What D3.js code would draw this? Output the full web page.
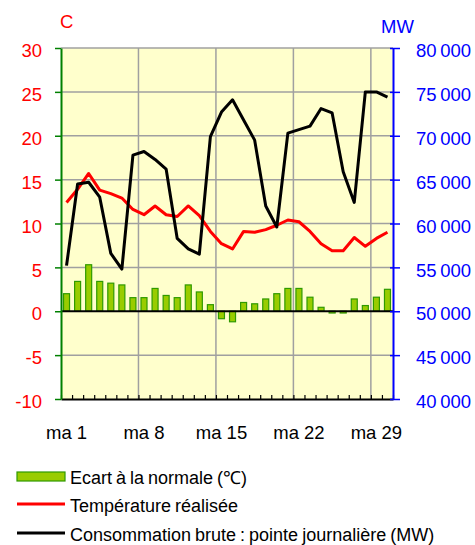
<!DOCTYPE html>
<html><head><meta charset="utf-8">
<script src="https://cdn.jsdelivr.net/npm/d3@7"></script>
<style>
body{margin:0;background:#fff}
svg{display:block;font-family:"Liberation Sans",Arial,sans-serif}
</style>
</head><body>
<svg id="chart" width="475" height="545"></svg>
<script>
// ---- data ----
const days = [1,2,3,4,5,6,7,8,9,10,11,12,13,14,15,16,17,18,19,20,21,22,23,24,25,26,27,28,29,30];
const ecart = [2.0,3.4,5.3,3.4,3.2,3.0,1.55,1.55,2.6,1.8,1.55,3.0,2.2,0.75,-0.85,-1.2,1.0,0.85,1.4,2.0,2.6,2.6,1.6,0.45,-0.2,-0.2,1.4,0.65,1.6,2.5];
const temperature = [12.4,13.9,15.7,13.8,13.4,12.9,11.6,11.0,12.0,11.0,10.8,12.0,10.9,9.1,7.7,7.1,9.1,9.0,9.3,9.8,10.4,10.2,9.1,7.7,6.9,6.9,8.4,7.4,8.3,9.0];
const consommation = [55200,64500,64700,63000,56600,54800,67800,68200,67300,66200,58300,57100,56500,69900,72700,74100,71800,69500,62000,59600,70300,70700,71100,73100,72600,65900,62400,75000,75000,74400];
const labelDays = [1,8,15,22,29];
const xLabels = ["ma 1","ma 8","ma 15","ma 22","ma 29"];
const tempTicks = [-10,-5,0,5,10,15,20,25,30];
const tempLabels = ["-10","-5","0","5","10","15","20","25","30"];
const mwTicks = [40000,45000,50000,55000,60000,65000,70000,75000,80000];
const gridDays = [8,15,22,29];
const legendLabels = ["Ecart à la normale (\u2103)","Température réalisée","Consommation brute : pointe journalière (MW)"];

// ---- layout ----
const L = 61, R = 393, T = 48, B = 399;
const FONT = '"Liberation Sans",Arial,sans-serif';
const svg = d3.select("#chart");
const x = d3.scaleBand().domain(days).range([L, R]).paddingInner(0).paddingOuter(0);
const xb = d3.scaleLinear().domain([0, days.length]).range([L, R]);
const yT = d3.scaleLinear().domain([-10, 30]).range([B, T]);
const yMW = d3.scaleLinear().domain([40000, 80000]).range([B, T]);
const bw = x.bandwidth();
const fmt = d3.formatLocale({decimal:",", thousands:"\u2009", grouping:[3], currency:["",""]}).format(",");

// background
svg.append("rect").attr("x", L).attr("y", T).attr("width", R - L).attr("height", B - T).attr("fill", "#ffffcc");

// grid
svg.append("g").selectAll("line").data(tempTicks.filter(v => v !== 0 && v !== -10)).join("line")
  .attr("x1", L).attr("x2", R).attr("y1", d => yT(d)).attr("y2", d => yT(d))
  .attr("stroke", "#a0a0a0").attr("stroke-width", 1.5);
svg.append("g").selectAll("line").data(gridDays).join("line")
  .attr("x1", d => x(d)).attr("x2", d => x(d)).attr("y1", T).attr("y2", B)
  .attr("stroke", "#a0a0a0").attr("stroke-width", 1.5);

// bars
const barW = 6;
svg.append("g").selectAll("rect").data(days).join("rect")
  .attr("x", (d) => x(d) + (bw - barW) / 2)
  .attr("y", (d, i) => yT(Math.max(0, ecart[i])))
  .attr("width", barW)
  .attr("height", (d, i) => Math.abs(yT(ecart[i]) - yT(0)))
  .attr("fill", "#99cc00").attr("stroke", "#2f9a00").attr("stroke-width", 1.2);

// zero line
svg.append("line").attr("x1", L).attr("x2", R).attr("y1", yT(0)).attr("y2", yT(0))
  .attr("stroke", "#000").attr("stroke-width", 2);

// lines
const lineT = d3.line().x((d, i) => x(days[i]) + bw / 2).y(d => yT(d));
const lineMW = d3.line().x((d, i) => x(days[i]) + bw / 2).y(d => yMW(d));
svg.append("path").attr("d", lineT(temperature)).attr("fill", "none")
  .attr("stroke", "#ff0000").attr("stroke-width", 3).attr("stroke-linejoin", "round");
svg.append("path").attr("d", lineMW(consommation)).attr("fill", "none")
  .attr("stroke", "#000").attr("stroke-width", 3).attr("stroke-linejoin", "round");

// bottom axis (ticks inside)
const bottom = svg.append("g").attr("transform", `translate(0,${B})`)
  .call(d3.axisTop(xb).ticks(30).tickSize(4).tickSizeOuter(0).tickFormat(""));
bottom.select(".domain").attr("stroke", "#000").attr("stroke-width", 2);
bottom.selectAll(".tick line").attr("stroke", "#000").attr("stroke-width", 1.2);

// x labels
const xl = svg.append("g").attr("transform", `translate(0,${B})`)
  .call(d3.axisBottom(x).tickValues(labelDays).tickSize(0).tickPadding(27)
    .tickFormat(d => xLabels[labelDays.indexOf(d)]));
xl.select(".domain").remove();
xl.selectAll("text").attr("font-size", 18.5).attr("fill", "#000").attr("font-family", FONT);

// left axis
const la = svg.append("g").attr("transform", `translate(${L},0)`)
  .call(d3.axisLeft(yT).tickValues(tempTicks).tickSize(6).tickPadding(13).tickSizeOuter(0)
    .tickFormat(d => tempLabels[tempTicks.indexOf(d)]));
la.select(".domain").attr("stroke", "#008000").attr("stroke-width", 2);
la.selectAll(".tick line").attr("stroke", "#008000").attr("stroke-width", 1.5);
la.selectAll("text").attr("fill", "#ff0000").attr("font-size", 18.5).attr("dy", "0.47em")
  .attr("font-family", FONT);

// right axis
const ra = svg.append("g").attr("transform", `translate(${R},0)`)
  .call(d3.axisRight(yMW).tickValues(mwTicks).tickSize(7).tickPadding(16).tickSizeOuter(0).tickFormat(fmt));
ra.select(".domain").attr("stroke", "#0000ff").attr("stroke-width", 2);
ra.selectAll(".tick line").attr("x1", -3).attr("stroke", "#0000ff").attr("stroke-width", 1.5);
ra.selectAll("text").attr("fill", "#0000ff").attr("font-size", 18.5).attr("dy", "0.47em")
  .attr("font-family", FONT);

// axis titles
svg.append("text").attr("x", 60).attr("y", 28).attr("fill", "#ff0000").attr("font-size", 18.5).text("C");
svg.append("text").attr("x", 381).attr("y", 33).attr("fill", "#0000ff").attr("font-size", 18.5).text("MW");

// legend
const lg = svg.append("g");
lg.append("rect").attr("x", 17).attr("y", 472).attr("width", 48).attr("height", 9)
  .attr("fill", "#99cc00").attr("stroke", "#2f9a00").attr("stroke-width", 1.2);
lg.append("line").attr("x1", 17).attr("x2", 65).attr("y1", 504).attr("y2", 504).attr("stroke", "#ff0000").attr("stroke-width", 3);
lg.append("line").attr("x1", 17).attr("x2", 65).attr("y1", 533).attr("y2", 533).attr("stroke", "#000").attr("stroke-width", 3);
lg.selectAll("text").data(legendLabels).join("text")
  .attr("x", 70).attr("y", (d, i) => [484, 512, 541][i])
  .attr("font-size", 18).attr("fill", "#000").attr("word-spacing", -1).text(d => d);
</script>
</body></html>
